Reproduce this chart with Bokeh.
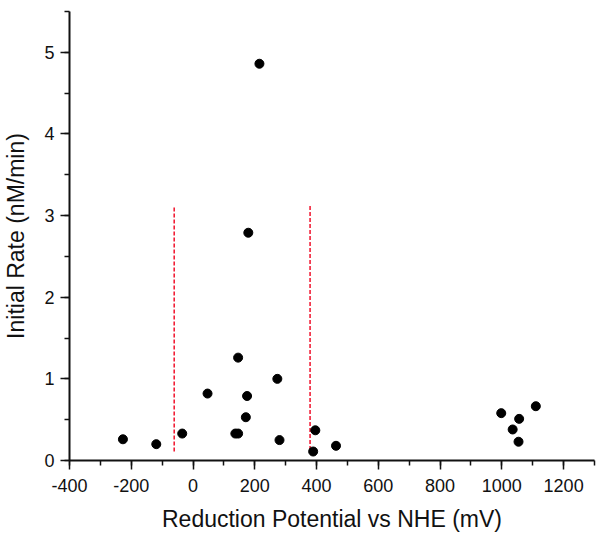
from bokeh.plotting import figure
from bokeh.models import FixedTicker, ColumnDataSource, CustomJSTickFormatter
from bokeh.embed import file_html
from bokeh.resources import INLINE

# Data
potential_mv = [-227, -119, -35, 47, 146, 137, 146, 175, 171, 273, 280, 396, 389, 463,
                215, 179, 998, 1056, 1035, 1054, 1110]
initial_rate = [0.26, 0.20, 0.33, 0.82, 1.26, 0.33, 0.33, 0.79, 0.53, 1.00, 0.25, 0.37, 0.11, 0.18,
                4.86, 2.79, 0.58, 0.51, 0.38, 0.23, 0.665]

divider_x = [-61, 379]
divider_bottom = [0.11, 0.13]
divider_top = [3.10, 3.14]

x_major = [-400, -200, 0, 200, 400, 600, 800, 1000, 1200]
x_minor = list(range(-400, 1301, 100))
y_major = [0, 1, 2, 3, 4, 5]
y_minor = [0, 0.5, 1, 1.5, 2, 2.5, 3, 3.5, 4, 4.5, 5, 5.5]

FONT = "Liberation Sans"
INK = "#111111"

p = figure(width=596, height=538, x_range=(-400, 1300), y_range=(0, 5.5),
           output_backend="svg", toolbar_location=None,
           min_border_left=68, min_border_right=2, min_border_top=11, min_border_bottom=78)
p.outline_line_color = None
p.xgrid.visible = False
p.ygrid.visible = False
p.background_fill_color = "white"
p.border_fill_color = "white"

p.segment(x0=divider_x, y0=divider_bottom, x1=divider_x, y1=divider_top,
          line_color="#f0102a", line_width=1.5, line_dash="4 2")

src = ColumnDataSource(dict(x=potential_mv, y=initial_rate))
p.scatter("x", "y", source=src, size=9, fill_color="black", line_color="black")

p.xaxis.ticker = FixedTicker(ticks=x_major, minor_ticks=x_minor)
p.yaxis.ticker = FixedTicker(ticks=y_major, minor_ticks=y_minor)
p.xaxis.formatter = CustomJSTickFormatter(code="return String(tick);")
p.yaxis.formatter = CustomJSTickFormatter(code="return String(tick);")
p.xaxis.axis_label = "Reduction Potential vs NHE (mV)"
p.yaxis.axis_label = "Initial Rate (nM/min)"

for ax in (p.xaxis[0], p.yaxis[0]):
    ax.axis_line_width = 2
    ax.axis_line_color = INK
    ax.major_tick_line_color = INK
    ax.minor_tick_line_color = INK
    ax.major_tick_line_width = 1.5
    ax.minor_tick_line_width = 1.5
    ax.major_tick_in = 0
    ax.minor_tick_in = 0
    ax.major_tick_out = 9
    ax.minor_tick_out = 5
    ax.major_label_text_font = FONT
    ax.major_label_text_font_size = "18px"
    ax.major_label_text_color = INK
    ax.axis_label_text_font = FONT
    ax.axis_label_text_font_size = "23px"
    ax.axis_label_text_font_style = "normal"
    ax.axis_label_text_color = INK

p.xaxis.major_label_standoff = 9
p.xaxis.axis_label_standoff = 11
p.yaxis.major_label_standoff = 6
p.yaxis.axis_label_standoff = 12

open("out.html", "w").write(file_html(p, INLINE))
